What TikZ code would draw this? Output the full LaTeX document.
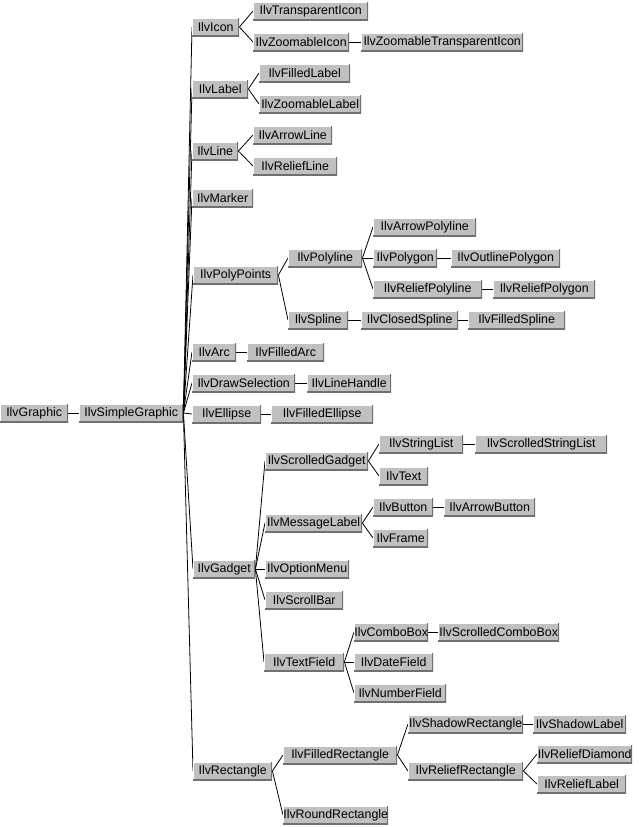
\documentclass[tikz,border=0pt]{standalone}
\usepackage{fontspec}
\setmainfont{Liberation Sans}
\usepackage{tikz}
\pgfdeclarelayer{edgelayer}
\pgfdeclarelayer{nodelayer}
\pgfsetlayers{edgelayer,nodelayer,main}
\definecolor{boxgray}{RGB}{192,192,192}
\definecolor{boxshade}{RGB}{112,112,112}
\tikzstyle{none} = []
\tikzstyle{cls} = [anchor=west, fill=boxgray, inner sep=0pt, minimum height=19pt,
	font=\fontsize{12.4}{13}\selectfont,
	path picture={
		\draw [white, line width=2pt] (path picture bounding box.south west) -- (path picture bounding box.north west) -- (path picture bounding box.north east);
		\draw [boxshade, line width=3pt] (path picture bounding box.south west) -- (path picture bounding box.south east) -- (path picture bounding box.north east);
	}]
\tikzstyle{link} = [black, line width=0.8pt]

\begin{document}
\begin{tikzpicture}[x=1pt, y=-1pt]
	\useasboundingbox (0,0) rectangle (638,827);
	\begin{pgfonlayer}{nodelayer}
		\node [style=cls, minimum width=68] (0) at (0, 413) {IlvGraphic};
		\node [style=cls, minimum width=104] (1) at (79, 413) {IlvSimpleGraphic};
		\node [style=cls, minimum width=47] (2) at (192, 27) {IlvIcon};
		\node [style=cls, minimum width=115] (3) at (253, 11) {IlvTransparentIcon};
		\node [style=cls, minimum width=96] (4) at (253, 42) {IlvZoomableIcon};
		\node [style=cls, minimum width=162] (5) at (361, 42) {IlvZoomableTransparentIcon};
		\node [style=cls, minimum width=56] (6) at (192, 89) {IlvLabel};
		\node [style=cls, minimum width=91] (7) at (259, 73) {IlvFilledLabel};
		\node [style=cls, minimum width=102] (8) at (259, 104) {IlvZoomableLabel};
		\node [style=cls, minimum width=46] (9) at (192, 151) {IlvLine};
		\node [style=cls, minimum width=79] (10) at (253, 135) {IlvArrowLine};
		\node [style=cls, minimum width=84] (11) at (253, 166) {IlvReliefLine};
		\node [style=cls, minimum width=61] (12) at (192, 198) {IlvMarker};
		\node [style=cls, minimum width=85] (13) at (193, 275) {IlvPolyPoints};
		\node [style=cls, minimum width=74] (14) at (288, 258) {IlvPolyline};
		\node [style=cls, minimum width=103] (15) at (373, 227) {IlvArrowPolyline};
		\node [style=cls, minimum width=64] (16) at (373, 258) {IlvPolygon};
		\node [style=cls, minimum width=109] (17) at (451, 258) {IlvOutlinePolygon};
		\node [style=cls, minimum width=109] (18) at (373, 289) {IlvReliefPolyline};
		\node [style=cls, minimum width=102] (19) at (493, 289) {IlvReliefPolygon};
		\node [style=cls, minimum width=60] (20) at (288, 320) {IlvSpline};
		\node [style=cls, minimum width=97] (21) at (361, 320) {IlvClosedSpline};
		\node [style=cls, minimum width=97] (22) at (468, 320) {IlvFilledSpline};
		\node [style=cls, minimum width=44] (23) at (192, 352) {IlvArc};
		\node [style=cls, minimum width=77] (24) at (247, 352) {IlvFilledArc};
		\node [style=cls, minimum width=103] (25) at (192, 383) {IlvDrawSelection};
		\node [style=cls, minimum width=84] (26) at (307, 383) {IlvLineHandle};
		\node [style=cls, minimum width=69] (27) at (192, 414) {IlvEllipse};
		\node [style=cls, minimum width=102] (28) at (271, 414) {IlvFilledEllipse};
		\node [style=cls, minimum width=62] (29) at (193, 569) {IlvGadget};
		\node [style=cls, minimum width=103] (30) at (265, 461) {IlvScrolledGadget};
		\node [style=cls, minimum width=84] (31) at (379, 444) {IlvStringList};
		\node [style=cls, minimum width=132] (32) at (475, 444) {IlvScrolledStringList};
		\node [style=cls, minimum width=49] (33) at (379, 476) {IlvText};
		\node [style=cls, minimum width=97] (34) at (265, 523) {IlvMessageLabel};
		\node [style=cls, minimum width=60] (35) at (373, 507) {IlvButton};
		\node [style=cls, minimum width=91] (36) at (444, 507) {IlvArrowButton};
		\node [style=cls, minimum width=55] (37) at (373, 538) {IlvFrame};
		\node [style=cls, minimum width=84] (38) at (265, 569) {IlvOptionMenu};
		\node [style=cls, minimum width=78] (39) at (265, 600) {IlvScrollBar};
		\node [style=cls, minimum width=80] (40) at (264, 662) {IlvTextField};
		\node [style=cls, minimum width=74] (41) at (354, 632) {IlvComboBox};
		\node [style=cls, minimum width=121] (42) at (438, 632) {IlvScrolledComboBox};
		\node [style=cls, minimum width=79] (43) at (354, 662) {IlvDateField};
		\node [style=cls, minimum width=92] (44) at (354, 693) {IlvNumberField};
		\node [style=cls, minimum width=79] (45) at (193, 771) {IlvRectangle};
		\node [style=cls, minimum width=114] (46) at (283, 755) {IlvFilledRectangle};
		\node [style=cls, minimum width=115] (47) at (408, 724) {IlvShadowRectangle};
		\node [style=cls, minimum width=93] (48) at (533, 724) {IlvShadowLabel};
		\node [style=cls, minimum width=115] (49) at (408, 771) {IlvReliefRectangle};
		\node [style=cls, minimum width=95] (50) at (537, 754) {IlvReliefDiamond};
		\node [style=cls, minimum width=89] (51) at (537, 784) {IlvReliefLabel};
		\node [style=cls, minimum width=105] (52) at (283, 815) {IlvRoundRectangle};
	\end{pgfonlayer}
	\begin{pgfonlayer}{edgelayer}
		\draw [style=link] (0.east) to (1.west);
		\foreach \k in {2,6,9,12,13,23,25,27,29,45}
			\draw [style=link] (1.east) to (\k.west);
		\draw [style=link] (2.east) to (3.west);
		\draw [style=link] (2.east) to (4.west);
		\draw [style=link] (4.east) to (5.west);
		\draw [style=link] (6.east) to (7.west);
		\draw [style=link] (6.east) to (8.west);
		\draw [style=link] (9.east) to (10.west);
		\draw [style=link] (9.east) to (11.west);
		\draw [style=link] (13.east) to (14.west);
		\draw [style=link] (13.east) to (20.west);
		\draw [style=link] (14.east) to (15.west);
		\draw [style=link] (14.east) to (16.west);
		\draw [style=link] (14.east) to (18.west);
		\draw [style=link] (16.east) to (17.west);
		\draw [style=link] (18.east) to (19.west);
		\draw [style=link] (20.east) to (21.west);
		\draw [style=link] (21.east) to (22.west);
		\draw [style=link] (23.east) to (24.west);
		\draw [style=link] (25.east) to (26.west);
		\draw [style=link] (27.east) to (28.west);
		\foreach \k in {30,34,38,39,40}
			\draw [style=link] (29.east) to (\k.west);
		\draw [style=link] (30.east) to (31.west);
		\draw [style=link] (30.east) to (33.west);
		\draw [style=link] (31.east) to (32.west);
		\draw [style=link] (34.east) to (35.west);
		\draw [style=link] (34.east) to (37.west);
		\draw [style=link] (35.east) to (36.west);
		\draw [style=link] (40.east) to (41.west);
		\draw [style=link] (40.east) to (43.west);
		\draw [style=link] (40.east) to (44.west);
		\draw [style=link] (41.east) to (42.west);
		\draw [style=link] (45.east) to (46.west);
		\draw [style=link] (45.east) to (52.west);
		\draw [style=link] (46.east) to (47.west);
		\draw [style=link] (46.east) to (49.west);
		\draw [style=link] (47.east) to (48.west);
		\draw [style=link] (49.east) to (50.west);
		\draw [style=link] (49.east) to (51.west);
	\end{pgfonlayer}
\end{tikzpicture}
\end{document}
